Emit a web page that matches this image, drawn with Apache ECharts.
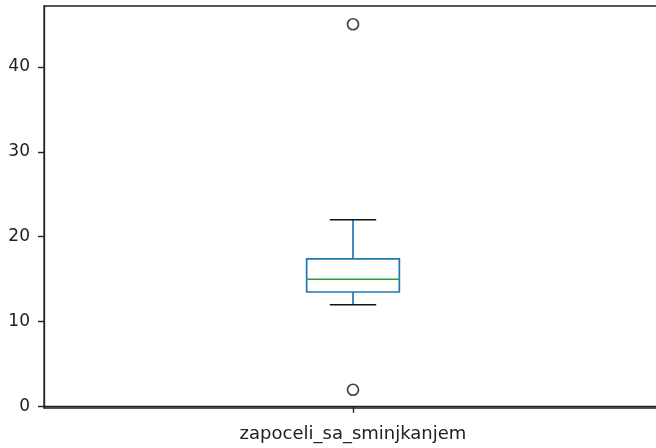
<!DOCTYPE html>
<html>
<head>
<meta charset="utf-8">
<script src="https://cdn.jsdelivr.net/npm/echarts@6/dist/echarts.min.js"></script>
<style>
html,body{margin:0;padding:0;background:#fff;}
#chart{width:656px;height:448px;}
</style>
</head>
<body>
<div id="chart"></div>
<script>
const categories = ['zapoceli_sa_sminjkanjem'];
const whiskerLow = [12];
const q1 = [13.5];
const median = [15];
const q3 = [17.4];
const whiskerHigh = [22];
const outliers = [45, 2];
const yTicks = [0, 10, 20, 30, 40];

const boxData = categories.map((c, i) => [i, whiskerLow[i], q1[i], median[i], q3[i], whiskerHigh[i]]);
const outlierData = outliers.map(v => [0, v]);

const chart = echarts.init(document.getElementById('chart'), null, {renderer: 'canvas'});
const font = 'DejaVu Sans';
const axisColor = '#222';
chart.setOption({
  animation: false,
  backgroundColor: '#fff',
  grid: {left: 44, width: 618, top: 6, height: 402, show: true, borderColor: axisColor, borderWidth: 1.3, containLabel: false, outerBoundsMode: 'none'},
  xAxis: {
    type: 'category',
    data: categories,
    axisLine: {show: true, lineStyle: {color: axisColor, width: 1.3}},
    axisTick: {show: true, alignWithLabel: true, length: 6, lineStyle: {color: axisColor, width: 1.4}},
    axisLabel: {color: '#222', fontFamily: font, fontSize: 18, margin: 17},
    splitLine: {show: false}
  },
  yAxis: {
    type: 'value',
    min: -0.15,
    max: 47.15,
    axisLine: {show: true, lineStyle: {color: axisColor, width: 1.3}},
    axisTick: {show: true, length: 6, customValues: yTicks, lineStyle: {color: axisColor, width: 1.4}},
    axisLabel: {color: '#222', fontFamily: font, fontSize: 17, margin: 14, customValues: yTicks},
    splitLine: {show: false}
  },
  series: [
    {
      type: 'custom',
      data: boxData,
      renderItem: function (params, api) {
        const x = api.value(0);
        const band = api.size([1, 0])[0];
        const hw = band * 0.15 / 2;
        const cw = hw / 2;
        const pLow = api.coord([x, api.value(1)]);
        const pQ1 = api.coord([x, api.value(2)]);
        const pMed = api.coord([x, api.value(3)]);
        const pQ3 = api.coord([x, api.value(4)]);
        const pHigh = api.coord([x, api.value(5)]);
        const cx = pQ1[0];
        const blue = {stroke: '#1f77b4', lineWidth: 1.7, fill: null};
        return {
          type: 'group',
          children: [
            {type: 'line', shape: {x1: cx, y1: pQ3[1], x2: cx, y2: pHigh[1]}, style: blue},
            {type: 'line', shape: {x1: cx, y1: pQ1[1], x2: cx, y2: pLow[1]}, style: blue},
            {type: 'rect', shape: {x: cx - hw, y: pQ3[1], width: 2 * hw, height: pQ1[1] - pQ3[1]}, style: {stroke: '#1f77b4', lineWidth: 1.7, fill: 'none'}},
            {type: 'line', shape: {x1: cx - hw, y1: pMed[1], x2: cx + hw, y2: pMed[1]}, style: {stroke: '#2ca02c', lineWidth: 1.7}},
            {type: 'line', shape: {x1: cx - cw, y1: pHigh[1], x2: cx + cw, y2: pHigh[1]}, style: {stroke: '#111', lineWidth: 1.7}},
            {type: 'line', shape: {x1: cx - cw, y1: pLow[1], x2: cx + cw, y2: pLow[1]}, style: {stroke: '#111', lineWidth: 1.7}}
          ]
        };
      }
    },
    {
      type: 'scatter',
      data: outlierData,
      symbol: 'circle',
      symbolSize: 11,
      itemStyle: {color: '#fff', borderColor: '#111', borderWidth: 1.7},
      emphasis: {disabled: true}
    }
  ]
});
</script>
</body>
</html>
